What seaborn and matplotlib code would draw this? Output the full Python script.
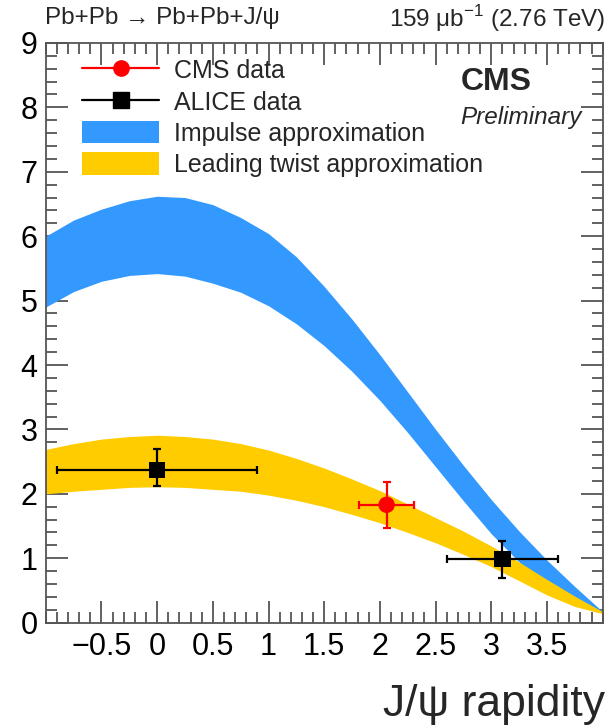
import numpy as np
import pandas as pd
import seaborn as sns
import matplotlib.pyplot as plt
from matplotlib.lines import Line2D
from matplotlib.patches import Patch
from matplotlib.ticker import MultipleLocator

# rapidity grid for the two theory bands
rap = [-1.0, -0.75, -0.5, -0.25, 0.0, 0.25, 0.5, 0.75, 1.0, 1.25, 1.5,
       1.75, 2.0, 2.25, 2.5, 2.75, 3.0, 3.25, 3.5, 3.75, 4.0]
impulse_hi = [6.00, 6.25, 6.42, 6.55, 6.62, 6.60, 6.49, 6.29, 6.04, 5.68, 5.22,
              4.71, 4.16, 3.58, 3.00, 2.44, 1.91, 1.42, 0.97, 0.56, 0.17]
impulse_lo = [4.90, 5.14, 5.30, 5.39, 5.42, 5.38, 5.27, 5.13, 4.92, 4.64, 4.30,
              3.90, 3.45, 2.95, 2.42, 1.89, 1.38, 0.94, 0.58, 0.31, 0.15]
twist_hi = [2.69, 2.78, 2.85, 2.89, 2.91, 2.89, 2.85, 2.78, 2.68, 2.55, 2.40,
            2.23, 2.05, 1.84, 1.63, 1.42, 1.19, 0.94, 0.67, 0.41, 0.17]
twist_lo = [2.00, 2.04, 2.07, 2.10, 2.11, 2.10, 2.07, 2.04, 1.98, 1.90, 1.80,
            1.68, 1.55, 1.40, 1.24, 1.06, 0.87, 0.65, 0.43, 0.25, 0.14]

# data points
cms_x = [2.06]
cms_y = [1.83]
cms_xerr = [0.25]
cms_yerr = [0.36]
alice_x = [0.0, 3.1]
alice_y = [2.37, 0.99]
alice_xerr = [0.9, 0.5]
alice_yerr_lo = [0.25, 0.30]
alice_yerr_hi = [0.33, 0.28]

xtick_vals = [-0.5, 0, 0.5, 1, 1.5, 2, 2.5, 3, 3.5]
xtick_labels = ["\u22120.5", "0", "0.5", "1", "1.5", "2", "2.5", "3", "3.5"]

sns.set_theme(style="ticks")
plt.rcParams['font.family'] = ['Liberation Sans', 'DejaVu Sans']

blue = "#3399ff"
yellow = "#ffcc00"

fig = plt.figure(figsize=(6.08, 7.28), dpi=100)
ax = fig.add_axes([0.0752, 0.1447, 0.9161, 0.7963])

bands = pd.DataFrame({"rap": rap, "imp_hi": impulse_hi, "imp_lo": impulse_lo,
                      "tw_hi": twist_hi, "tw_lo": twist_lo})
ax.fill_between(bands.rap, bands.imp_lo, bands.imp_hi, color=blue, lw=0, zorder=1)
ax.fill_between(bands.rap, bands.tw_lo, bands.tw_hi, color=yellow, lw=0, zorder=2)

ax.errorbar(cms_x, cms_y, xerr=cms_xerr, yerr=cms_yerr, fmt="none", ecolor="red",
            elinewidth=1.6, capsize=3, capthick=1.6, zorder=3)
ax.errorbar(alice_x, alice_y, xerr=alice_xerr, yerr=[alice_yerr_lo, alice_yerr_hi],
            fmt="none", ecolor="black", elinewidth=1.6, capsize=3, capthick=1.6, zorder=3)
pts = pd.DataFrame({"x": cms_x + alice_x, "y": cms_y + alice_y,
                    "exp": ["CMS"] + ["ALICE"] * len(alice_x)})
sns.scatterplot(data=pts, x="x", y="y", hue="exp", style="exp",
                palette={"CMS": "red", "ALICE": "black"},
                markers={"CMS": "o", "ALICE": "s"}, s=140, linewidth=0,
                legend=False, ax=ax, zorder=4)

ax.set_xlim(-1, 4)
ax.set_ylim(0, 9)
ax.set_xticks(xtick_vals)
ax.set_xticklabels(xtick_labels)
ax.set_yticks(range(10))
ax.xaxis.set_minor_locator(MultipleLocator(0.1))
ax.yaxis.set_minor_locator(MultipleLocator(0.2))
ax.tick_params(which="both", direction="in", top=True, right=True, color="#555555",
               width=1.3, labelsize=22, labelcolor="black")
ax.tick_params(which="major", length=16)
ax.tick_params(which="minor", length=8)
ax.tick_params(axis="x", pad=7)
ax.tick_params(axis="y", pad=6)
for sp in ax.spines.values():
    sp.set_color("#555555")
    sp.set_linewidth(1.3)
ax.set_xlabel("")
ax.set_ylabel("")

handles = [
    Line2D([0], [0], color="red", lw=1.6, marker="o", markersize=11),
    Line2D([0], [0], color="black", lw=1.6, marker="s", markersize=11),
    Patch(facecolor=blue, edgecolor="none"),
    Patch(facecolor=yellow, edgecolor="none"),
]
labels = ["CMS data", "ALICE data", "Impulse approximation", "Leading twist approximation"]
ax.legend(handles, labels, loc="upper left", bbox_to_anchor=(0.065, 0.973), frameon=False,
          fontsize=18, handlelength=3.1, handleheight=1.0, handletextpad=0.6,
          labelspacing=0.26, borderaxespad=0, borderpad=0)

ax.text(0.745, 0.933, "CMS", transform=ax.transAxes, fontsize=23, fontweight="bold",
        va="center")
ax.text(0.745, 0.871, "Preliminary", transform=ax.transAxes, fontsize=17.5,
        fontstyle="italic", va="center")

fig.text(0.074, 0.975, "Pb+Pb \u2192 Pb+Pb+J/\u03c8", fontsize=17.5, va="center")
fig.text(0.995, 0.975, "159 \u03bcb$^{\\mathregular{-1}}$ (2.76 TeV)", fontsize=17.5,
         ha="right", va="center")
fig.text(0.995, 0.032, "J/\u03c8 rapidity", fontsize=32, ha="right", va="center")

fig.savefig("out.png", dpi=100)
